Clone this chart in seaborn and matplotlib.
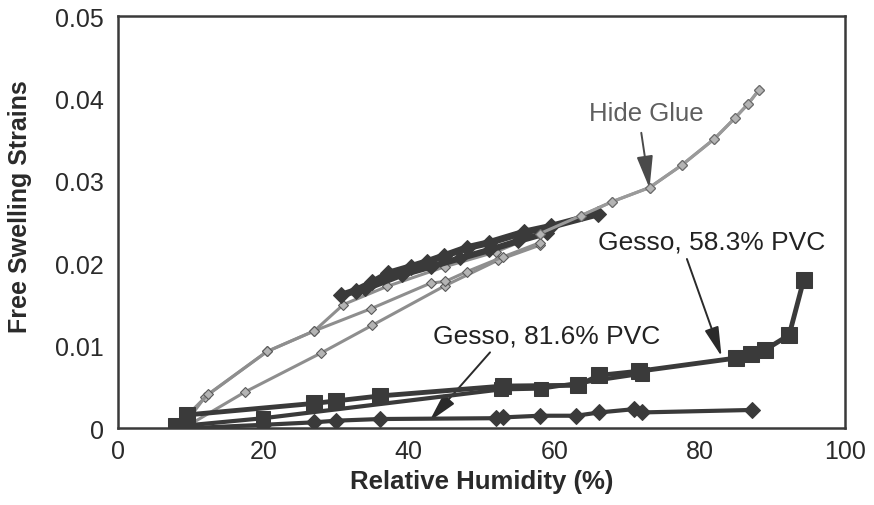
import matplotlib
matplotlib.use("Agg")
import matplotlib.pyplot as plt
import seaborn as sns
import pandas as pd

# ---------------- data ----------------
# Hide glue, grey curves (several sorption cycles)
glue1_rh = [8, 12.4, 20.5, 27, 31, 37, 45, 52, 58, 63.7, 68, 73.1, 77.5, 82, 84.8, 86.7, 88.1]
glue1_s = [0.0002, 0.0041, 0.0093, 0.0118, 0.0150, 0.0172, 0.0196, 0.0214, 0.0236, 0.0258, 0.0275, 0.0292, 0.0319, 0.0351, 0.0376, 0.0394, 0.0410]
glue2_rh = [9, 12, 20.5, 27, 34.8, 43, 45, 48, 53, 58]
glue2_s = [0.0003, 0.0038, 0.0093, 0.0118, 0.0145, 0.0176, 0.0178, 0.0190, 0.0208, 0.0225]
glue3_rh = [10, 17.5, 27.9, 35, 45, 52.3, 58]
glue3_s = [0.0005, 0.0044, 0.0091, 0.0125, 0.0173, 0.0204, 0.0222]
# Hide glue, dark band
band_rh = [30.6, 32.7, 35, 37.2, 40.3, 42.5, 44.8, 48, 51, 55.9, 59.6, 66]
band_s = [0.0161, 0.0167, 0.0177, 0.0188, 0.0196, 0.0202, 0.0209, 0.0219, 0.0225, 0.0238, 0.0245, 0.0260]
band2_rh = [59, 55, 51, 47, 43, 39, 34]
band2_s = [0.0237, 0.0227, 0.0216, 0.0206, 0.0196, 0.0186, 0.0169]
# Gesso, 58.3% PVC (squares)
g58_rh = [8, 9.5, 27, 30, 36, 53, 63.3, 66.2, 71.6, 85, 87, 89, 92.3, 94.3]
g58_s = [0.0002, 0.0016, 0.0030, 0.0033, 0.0039, 0.0051, 0.0052, 0.0064, 0.0069, 0.0085, 0.0090, 0.0095, 0.0113, 0.0180]
g58b_rh = [72, 58.2, 52.7, 20, 8]
g58b_s = [0.0066, 0.0048, 0.0047, 0.0012, 0.0002]
# Gesso, 81.6% PVC (diamonds)
g81_rh = [10, 20, 27, 30, 36, 52, 53, 58, 63, 66.2, 71, 72, 87.2]
g81_s = [0.0000, 0.0004, 0.0007, 0.0009, 0.0011, 0.0012, 0.0013, 0.0015, 0.0015, 0.0019, 0.0023, 0.0019, 0.0022]

x_ticks = [0, 20, 40, 60, 80, 100]
y_ticks = [0, 0.01, 0.02, 0.03, 0.04, 0.05]
y_tick_labels = ["0", "0.01", "0.02", "0.03", "0.04", "0.05"]

# ---------------- style ----------------
sns.set_style("white")
plt.rcParams["font.family"] = ["Liberation Sans", "DejaVu Sans"]

DARK = "#3a3a3a"
GREY = "#8e8e8e"

fig = plt.figure(figsize=(8.74, 5.06), dpi=100)
ax = fig.add_axes([0.135, 0.152, 0.832, 0.814])


def draw(x, y, **kw):
    df = pd.DataFrame({"rh": x, "s": y})
    sns.lineplot(data=df, x="rh", y="s", estimator=None, sort=False, ax=ax, **kw)


# grey hide-glue curves
for gx, gy in [(glue3_rh, glue3_s), (glue2_rh, glue2_s), (glue1_rh, glue1_s)]:
    draw(gx, gy, color=GREY, linewidth=2.2, marker="D", markersize=5,
         markerfacecolor="#b4b4b4", markeredgecolor="#5a5a5a", markeredgewidth=0.8, zorder=2)

# dark hide-glue band
draw(band2_rh, band2_s, color=DARK, linewidth=4.5, marker="D", markersize=7,
     markerfacecolor=DARK, markeredgecolor=DARK, zorder=3)
draw(band_rh, band_s, color=DARK, linewidth=5, marker="D", markersize=8,
     markerfacecolor=DARK, markeredgecolor=DARK, zorder=3)
# upper end of the grey curve shows over the band
draw(glue1_rh[8:], glue1_s[8:], color="#9a9a9a", linewidth=2.2, marker="D", markersize=5,
     markerfacecolor="#b4b4b4", markeredgecolor="#6a6a6a", markeredgewidth=0.8, zorder=3.5)

# gesso 58.3% PVC
draw(g58b_rh, g58b_s, color=DARK, linewidth=3, marker="s", markersize=10,
     markerfacecolor=DARK, markeredgecolor=DARK, zorder=4)
draw(g58_rh, g58_s, color=DARK, linewidth=3.5, marker="s", markersize=11,
     markerfacecolor=DARK, markeredgecolor=DARK, zorder=4)

# gesso 81.6% PVC
draw(g81_rh, g81_s, color=DARK, linewidth=3, marker="D", markersize=8,
     markerfacecolor=DARK, markeredgecolor=DARK, zorder=5)

# ---------------- axes ----------------
ax.set_xlim(0, 100)
ax.set_ylim(0, 0.05)
ax.set_xticks(x_ticks)
ax.set_xticklabels([str(t) for t in x_ticks])
ax.set_yticks(y_ticks)
ax.set_yticklabels(y_tick_labels)
ax.tick_params(axis="both", direction="in", length=8, width=1.6, color="#333333",
               labelsize=18, labelcolor="#2a2a2a")
ax.tick_params(axis="y", pad=10)
ax.tick_params(axis="x", pad=8)
ax.tick_params(top=False, right=False)
for sp in ax.spines.values():
    sp.set_color("#3a3a3a")
    sp.set_linewidth(1.8)

ax.set_xlabel("Relative Humidity (%)", fontsize=18.5, fontweight="bold", color="#2a2a2a", labelpad=4)
ax.set_ylabel("Free Swelling Strains", fontsize=18, fontweight="bold", color="#2a2a2a")
ax.yaxis.set_label_coords(-0.118, 0.54)

# ---------------- annotations ----------------
ax.annotate("Hide Glue", xy=(73.1, 0.0291), xytext=(72.6, 0.0382),
            fontsize=18.5, color="#5f5f5f", ha="center", va="center",
            arrowprops=dict(arrowstyle="-|>,head_length=1.0,head_width=0.25",
                            mutation_scale=20, color="#4a4a4a", lw=1.4,
                            relpos=(0.45, 0.0), shrinkA=3, shrinkB=0))
ax.annotate("Gesso, 58.3% PVC", xy=(83.0, 0.0087), xytext=(81.7, 0.0227),
            fontsize=19, color="#222222", ha="center", va="center",
            arrowprops=dict(arrowstyle="-|>,head_length=0.9,head_width=0.22",
                            mutation_scale=20, color="#2a2a2a", lw=1.4,
                            relpos=(0.38, 0.0), shrinkA=2, shrinkB=0))
ax.annotate("Gesso, 81.6% PVC", xy=(42.8, 0.0008), xytext=(59.0, 0.0113),
            fontsize=19, color="#222222", ha="center", va="center",
            arrowprops=dict(arrowstyle="-|>,head_length=0.9,head_width=0.22",
                            mutation_scale=20, color="#2a2a2a", lw=1.4,
                            relpos=(0.27, 0.0), shrinkA=2, shrinkB=0))

fig.savefig("out.png", dpi=100)
